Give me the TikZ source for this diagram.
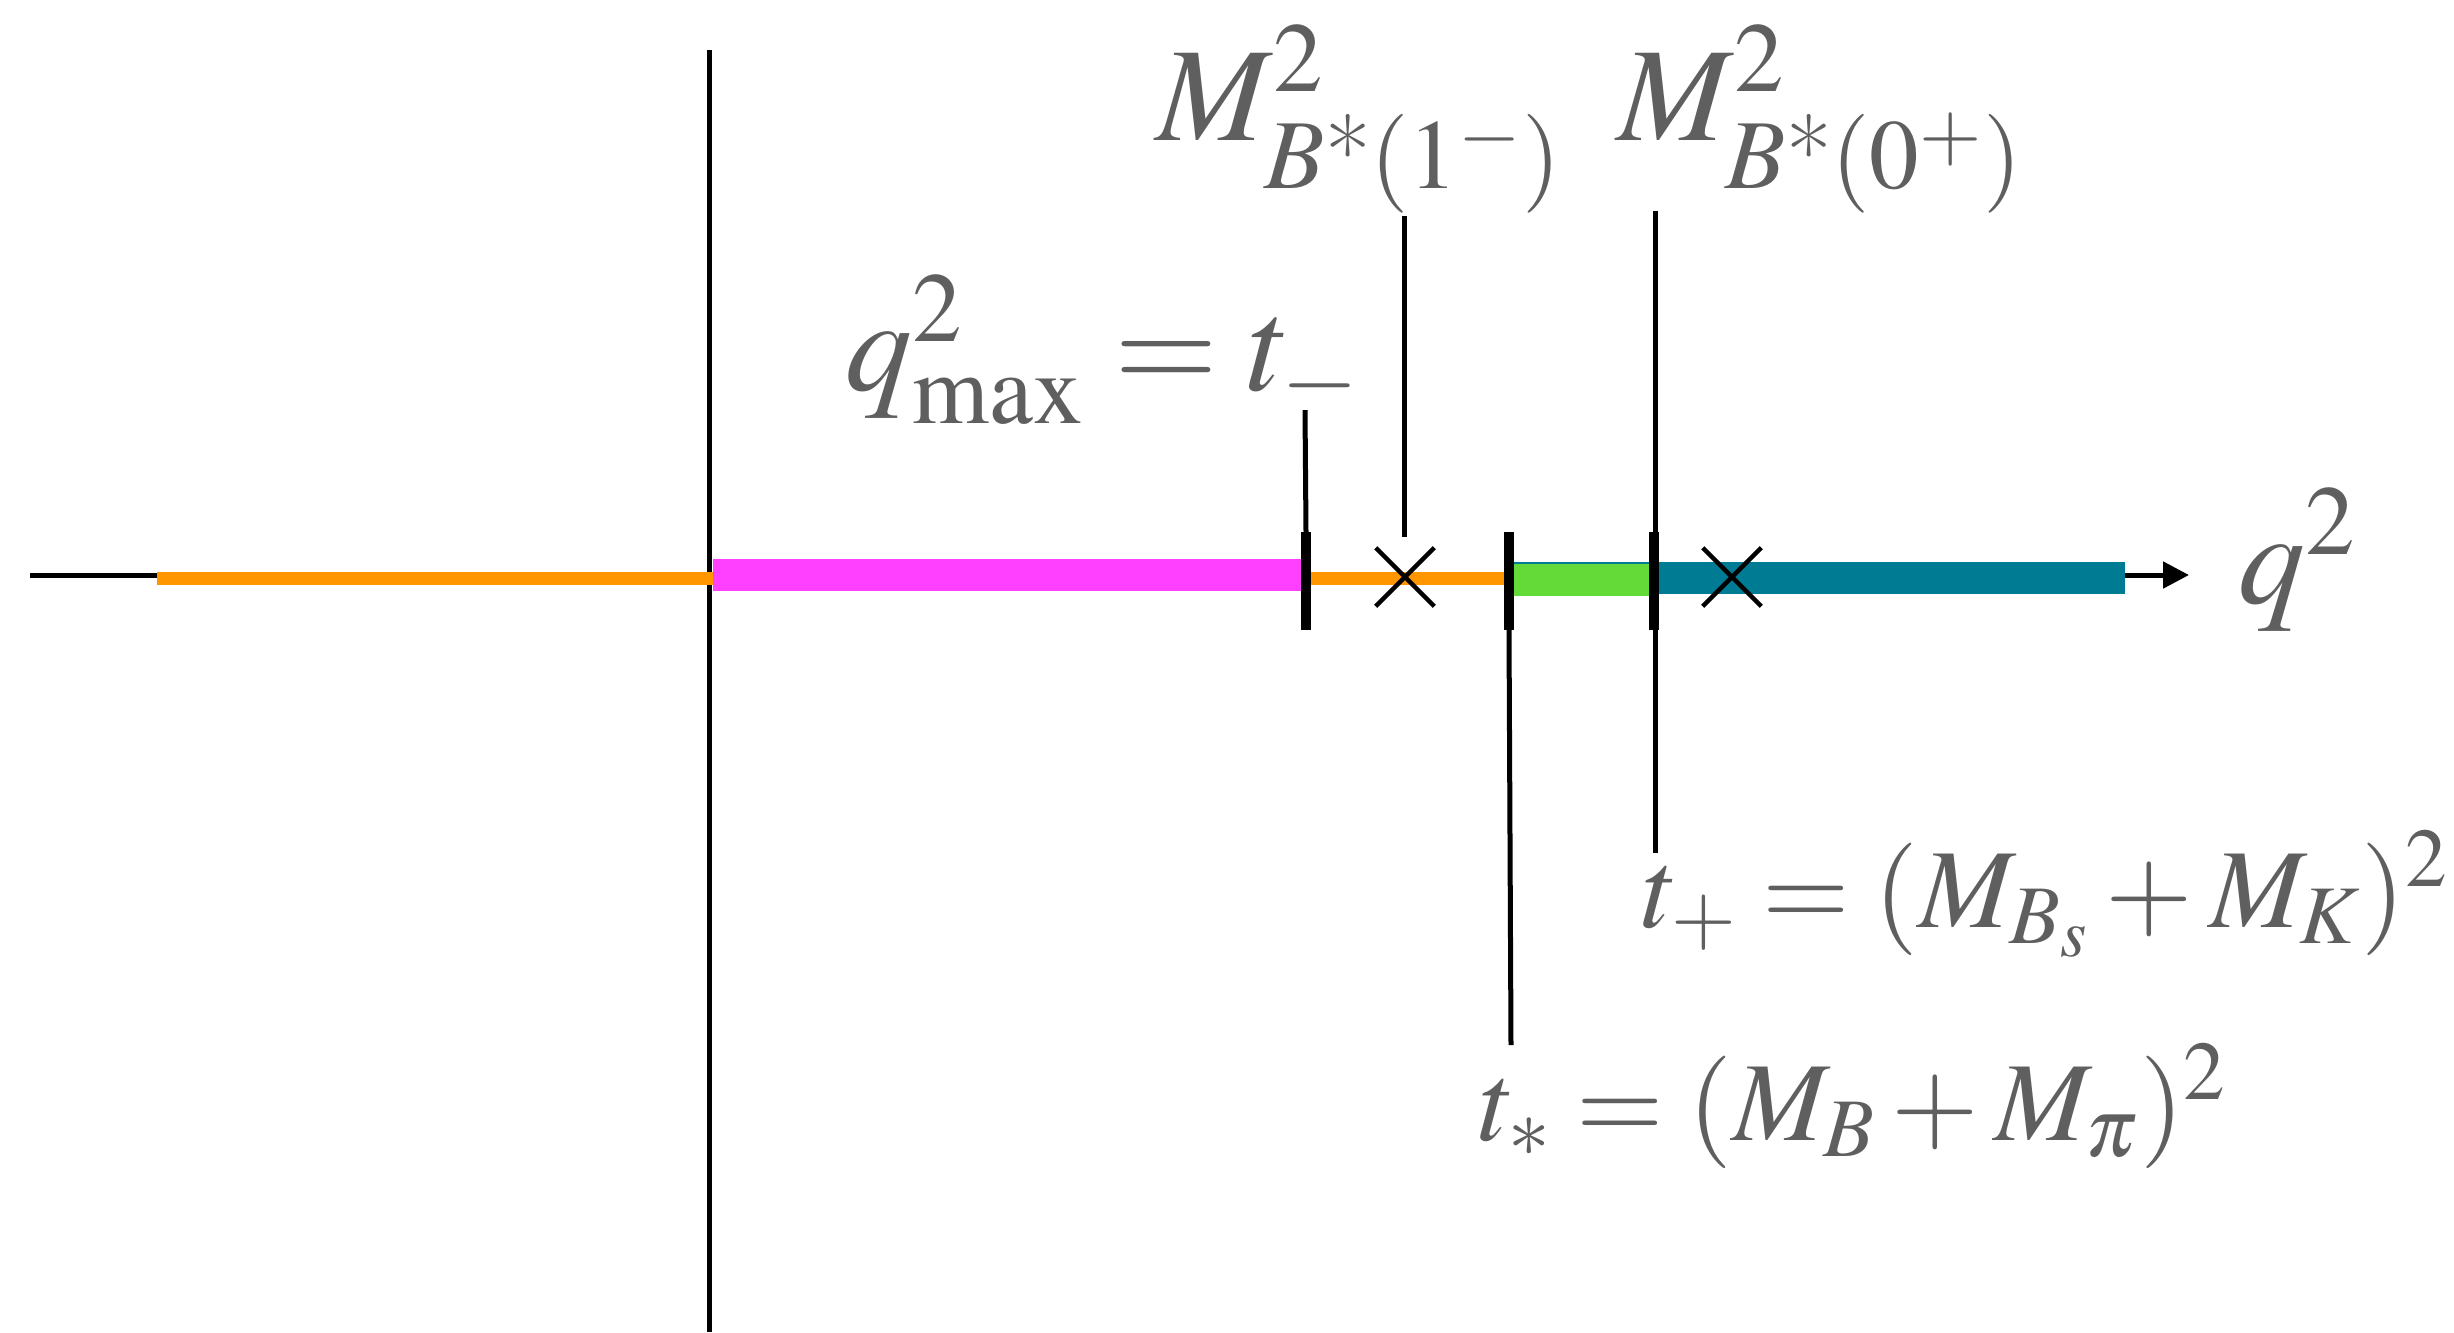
\documentclass[tikz,border=0pt]{standalone}
\usepackage{amsmath}
\usepackage{mathptmx}
\usetikzlibrary{arrows.meta,shapes.misc}

\definecolor{cutorange}{RGB}{255,150,0}
\definecolor{cutmagenta}{RGB}{255,64,255}
\definecolor{cutgreen}{RGB}{99,218,56}
\definecolor{cutteal}{RGB}{0,123,148}
\definecolor{labelgray}{RGB}{95,95,95}

\begin{document}
\begin{tikzpicture}[x=0.01cm, y=-0.01cm,
  band/.style={line width=0.32cm},
  tickmark/.style={line width=0.1cm},
  pointer/.style={line width=0.05cm},
  pole/.style={cross out, draw, line width=0.045cm, minimum size=0.54cm, inner sep=0pt},
  lbl/.style={text=labelgray, inner sep=0pt, anchor=base west, font=\fontsize{32}{38}\selectfont},
  biglbl/.style={lbl, font=\fontsize{38}{45}\selectfont}]
  \useasboundingbox (0,0) rectangle (2454,1332);

  % q^2 axis and the imaginary axis
  \coordinate (axisstart) at (30,575);
  \coordinate (axisend) at (2189,575);
  \draw[line width=0.05cm, -{Triangle[length=0.26cm, width=0.26cm]}] (axisstart) -- (axisend);
  \coordinate (imtop) at (709,50);
  \coordinate (imbottom) at (709,1332);
  \draw[line width=0.05cm] (imtop) -- (imbottom);

  % cuts along the real axis
  \draw[band, line width=0.13cm, cutorange] (157,578) -- (1505,578);
  \draw[band, cutmagenta] (713,575) -- (1306,575);
  \draw[band, cutteal] (1509,578) -- (2125,578);
  \draw[band, cutgreen] (1513,580) -- (1652,580);

  % thresholds
  \coordinate (tminus) at (1306,532);
  \coordinate (tstar) at (1509,630);
  \coordinate (tplus) at (1654,532);
  \draw[tickmark] (tminus) -- ++(0,98);
  \draw[tickmark] (tstar) -- ++(0,-98);
  \draw[tickmark] (tplus) -- ++(0,98);

  % poles
  \node[pole] (pole1) at (1405,577) {};
  \node[pole] (pole0) at (1732,577) {};

  % labels
  \node[biglbl] (mvec) at (1156,140) {$M^2_{B\text{*}(1^-)}$};
  \node[biglbl] (mscal) at (1617,140) {$M^2_{B\text{*}(0^+)}$};
  \node[biglbl] (qmax) at (845,390) {$q^2_{\rm max}=t_-$};
  \node[lbl] (tpluslbl) at (1642,927) {$t_+=(M_{B_s}+M_K)^2$};
  \node[lbl] (tstarlbl) at (1479,1140) {$t_*=(M_B+M_\pi)^2$};
  \node[biglbl] (q2) at (2238,603) {$q^2$};

  % pointers from labels
  \coordinate (qfoot) at (1305,410);
  \coordinate (m1top) at (1404,216);
  \coordinate (m1foot) at (1404,537);
  \coordinate (m2top) at (1655,211);
  \coordinate (m2foot) at (1655,853);
  \coordinate (tsfoot) at (1511,1045);
  \draw[pointer] (qfoot) -- (tminus);
  \draw[pointer] (m1top) -- (m1foot);
  \draw[pointer] (m2top) -- (m2foot);
  \draw[pointer] (tstar) -- (tsfoot);
\end{tikzpicture}
\end{document}
